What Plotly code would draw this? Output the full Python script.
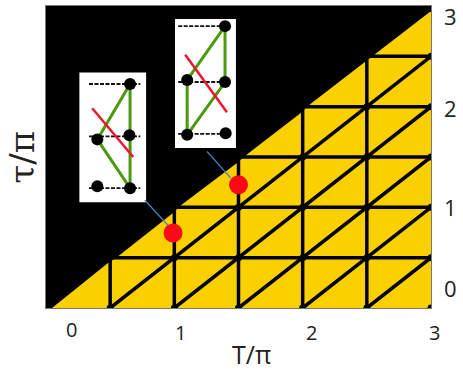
import plotly.graph_objects as go

# Values in axis units (T/pi, tau/pi)
grid_T = [0.5, 1.0, 1.5, 2.0, 2.5]
grid_tau = [0.5, 1.0, 1.5, 2.0, 2.5]
diag_offsets = [0.5, 1.0, 1.5, 2.0, 2.5]

boundary_T = [0.047, 0.483, 0.545, 0.99, 1.044, 1.488, 1.55, 1.995, 2.04, 2.486, 2.548, 2.99, 3.0, 3.0]
boundary_tau = [0.0, 0.447, 0.497, 0.944, 1.013, 1.44, 1.51, 1.947, 2.007, 2.444, 2.513, 2.94, 2.94, 0.0]

x_tick_pos = [0.195, 1.05, 2.07, 3.03]
x_tick_lab = ["0", "1", "2", "3"]
x_tick_y = [-0.215, -0.245, -0.245, -0.245]
y_tick_pos = [0.20, 1.00, 1.99, 2.90]
y_tick_lab = ["0", "1", "2", "3"]

states_T = [0.99, 1.50]
states_tau = [0.745, 1.225]
leader_T = [[0.77, 0.97], [1.255, 1.44]]
leader_tau = [[1.07, 0.795], [1.555, 1.29]]

# Inset 1
inset1_box = [0.26, 0.78, 1.05, 2.34]
inset1_dash_T = [0.335, 0.735]
inset1_dash_tau = [2.225, 1.705, 1.19]
inset1_dot_T = [0.655, 0.65, 0.655, 0.40, 0.40]
inset1_dot_tau = [2.225, 1.715, 1.19, 1.675, 1.21]
inset1_green_T = [0.655, 0.40, 0.655, 0.655]
inset1_green_tau = [2.225, 1.675, 1.19, 2.225]
inset1_red_T = [0.36, 0.68]
inset1_red_tau = [1.985, 1.50]

# Inset 2
inset2_box = [1.005, 1.48, 1.59, 2.87]
inset2_dash_T = [1.03, 1.42]
inset2_dash_tau = [2.80, 2.245, 1.73]
inset2_dot_T = [1.395, 1.395, 1.40, 1.10, 1.10]
inset2_dot_tau = [2.80, 2.245, 1.735, 2.265, 1.72]
inset2_green_T = [1.395, 1.10, 1.10, 1.395, 1.395]
inset2_green_tau = [2.80, 2.265, 1.72, 2.245, 2.80]
inset2_red_T = [1.085, 1.41]
inset2_red_tau = [2.515, 1.945]

BLACK = "#000000"
YELLOW = "#FBD000"
GREEN = "#4A9A0C"
RED = "#F0142D"
BLUE = "#4A7EBB"

fig = go.Figure()

fig.add_trace(go.Scatter(x=boundary_T, y=boundary_tau, mode="lines", fill="toself",
                         fillcolor=YELLOW, line=dict(color=YELLOW, width=0), hoverinfo="skip"))

lx, ly = [], []
for t in grid_T:
    lx += [t, t, None]
    ly += [0, t - 0.02, None]
for y in grid_tau:
    lx += [y + 0.02, 3, None]
    ly += [y, y, None]
for d in diag_offsets:
    lx += [d, 3, None]
    ly += [0, 3 - d, None]
fig.add_trace(go.Scatter(x=lx, y=ly, mode="lines", line=dict(color=BLACK, width=3.5), hoverinfo="skip"))

nx, ny = [], []
for t in grid_T + [3.0]:
    for y in [0.0] + grid_tau:
        if y < t:
            nx.append(t)
            ny.append(y)
fig.add_trace(go.Scatter(x=nx, y=ny, mode="markers", marker=dict(color=BLACK, size=7), hoverinfo="skip"))

for b in (inset1_box, inset2_box):
    fig.add_trace(go.Scatter(x=[b[0], b[1], b[1], b[0], b[0]], y=[b[2], b[2], b[3], b[3], b[2]],
                             mode="lines", fill="toself", fillcolor="white",
                             line=dict(width=0, color="white"), hoverinfo="skip"))

for dash_T, dash_tau, dot_T, dot_tau, gT, gtau, rT, rtau in [
    (inset1_dash_T, inset1_dash_tau, inset1_dot_T, inset1_dot_tau, inset1_green_T, inset1_green_tau, inset1_red_T, inset1_red_tau),
    (inset2_dash_T, inset2_dash_tau, inset2_dot_T, inset2_dot_tau, inset2_green_T, inset2_green_tau, inset2_red_T, inset2_red_tau),
]:
    for y in dash_tau:
        fig.add_trace(go.Scatter(x=dash_T, y=[y, y], mode="lines",
                                 line=dict(color="#111111", width=1.8, dash="4px,1.5px"), hoverinfo="skip"))
    fig.add_trace(go.Scatter(x=gT, y=gtau, mode="lines", line=dict(color=GREEN, width=3), hoverinfo="skip"))
    fig.add_trace(go.Scatter(x=dot_T, y=dot_tau, mode="markers", marker=dict(color=BLACK, size=12), hoverinfo="skip"))
    fig.add_trace(go.Scatter(x=rT, y=rtau, mode="lines", line=dict(color=RED, width=2.5), hoverinfo="skip"))

for a, b in zip(leader_T, leader_tau):
    fig.add_trace(go.Scatter(x=a, y=b, mode="lines", line=dict(color=BLUE, width=1.3), hoverinfo="skip"))

fig.add_trace(go.Scatter(x=states_T, y=states_tau, mode="markers",
                         marker=dict(color="#FA0A14", size=19), hoverinfo="skip"))

ann = []
def label(xv, yv, text, size, family="Open Sans", angle=0):
    ann.append(dict(x=xv / 3, y=yv / 3, xref="paper", yref="paper", text=text, showarrow=False,
                    xanchor="center", yanchor="middle", textangle=angle, borderpad=0,
                    font=dict(family=family, size=size, color="#222222")))
for p, t, yy in zip(x_tick_pos, x_tick_lab, x_tick_y):
    label(p, yy, t, 20)
for p, t in zip(y_tick_pos, y_tick_lab):
    label(3.15, p, t, 22)
label(1.60, -0.46, "T/π", 25)
label(-0.19, 1.5, "τ/π", 34, "DejaVu Serif", -90)

fig.update_layout(
    width=463, height=381, autosize=False,
    margin=dict(l=46, r=32, t=6, b=73),
    paper_bgcolor="white", plot_bgcolor=BLACK,
    showlegend=False, annotations=ann,
    xaxis=dict(range=[0, 3], showgrid=False, zeroline=False, showticklabels=False, ticks="",
               showline=True, linecolor="#777777", linewidth=1, mirror=True, fixedrange=True),
    yaxis=dict(range=[0, 3], showgrid=False, zeroline=False, showticklabels=False, ticks="",
               showline=True, linecolor="#777777", linewidth=1, mirror=True, fixedrange=True),
)
fig.write_html("out.html", config={"displayModeBar": False},
               post_script="document.body.style.margin='0';")
